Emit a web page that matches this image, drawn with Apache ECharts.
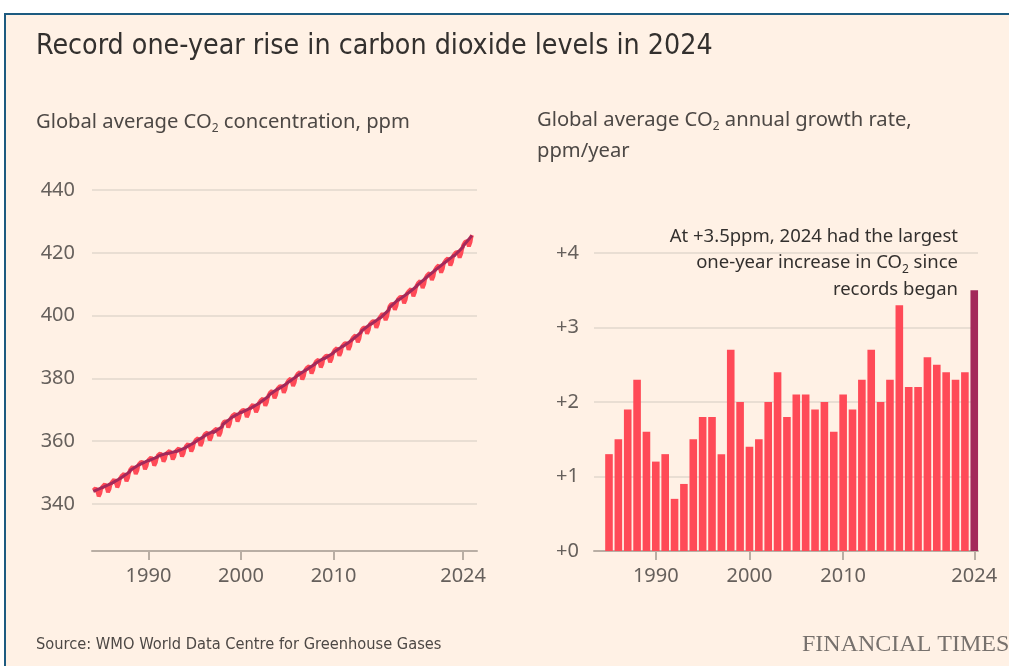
<!DOCTYPE html>
<html>
<head>
<meta charset="utf-8">
<title>CO2 levels</title>
<script src="https://cdn.jsdelivr.net/npm/echarts@6/dist/echarts.min.js"></script>
<style>
  html, body { margin: 0; padding: 0; background: #ffffff; width: 1009px; height: 666px; overflow: hidden; }
  #frame { position: absolute; left: 4px; top: 13px; width: 1010px; height: 660px; background: #FFF1E5;
           border-left: 2px solid #1d5b80; border-top: 2px solid #1d5b80; box-sizing: border-box; }
  #chart { position: absolute; left: 0; top: 0; width: 1009px; height: 666px; }
</style>
</head>
<body>
<div id="frame"></div>
<div id="chart"></div>
<script>
// Annual global mean CO2 concentration (ppm), 1984-2024
const years = [1984, 1985, 1986, 1987, 1988, 1989, 1990, 1991, 1992, 1993,
               1994, 1995, 1996, 1997, 1998, 1999, 2000, 2001, 2002, 2003,
               2004, 2005, 2006, 2007, 2008, 2009, 2010, 2011, 2012, 2013,
               2014, 2015, 2016, 2017, 2018, 2019, 2020, 2021, 2022, 2023, 2024];
const annualMeanPpm = [344.6, 345.9, 347.4, 349.3, 351.6, 353.2, 354.4, 355.7, 356.4, 357.3,
                       358.8, 360.6, 362.4, 363.7, 366.4, 368.4, 369.8, 371.3, 373.3, 375.7,
                       377.5, 379.6, 381.7, 383.6, 385.6, 387.2, 389.3, 391.2, 393.5, 396.2,
                       398.2, 400.5, 403.8, 406.0, 408.2, 410.8, 413.3, 415.7, 418.0, 420.4, 423.9];
// Mean seasonal cycle, deviation from trend (ppm), Jan..Dec
const seasonalCyclePpm = [0.3, 0.5, 0.6, 0.7, 0.6, 0.0, -1.2, -2.3, -2.5, -1.5, -0.4, 0.1];

// Annual growth rate (ppm/year), 1985-2024
const growthYears = [1985, 1986, 1987, 1988, 1989, 1990, 1991, 1992, 1993, 1994,
                     1995, 1996, 1997, 1998, 1999, 2000, 2001, 2002, 2003, 2004,
                     2005, 2006, 2007, 2008, 2009, 2010, 2011, 2012, 2013, 2014,
                     2015, 2016, 2017, 2018, 2019, 2020, 2021, 2022, 2023, 2024];
const growthRate = [1.3, 1.5, 1.9, 2.3, 1.6, 1.2, 1.3, 0.7, 0.9, 1.5,
                    1.8, 1.8, 1.3, 2.7, 2.0, 1.4, 1.5, 2.0, 2.4, 1.8,
                    2.1, 2.1, 1.9, 2.0, 1.6, 2.1, 1.9, 2.3, 2.7, 2.0,
                    2.3, 3.3, 2.2, 2.2, 2.6, 2.5, 2.4, 2.3, 2.4, 3.5];
const recordYear = 2024;

// Axis ticks
const yearTicks = [1990, 2000, 2010, 2024];
const concTicks = [340, 360, 380, 400, 420, 440];
const rateTicks = [0, 1, 2, 3, 4];

// Palette
const INK = '#33302E', SUBINK = '#4D4845', AXISINK = '#66605C';
const GRIDCOL = '#E2D7CC', AXISCOL = '#B9AEA4';
const RED = '#FF4A57', CLARET = '#A3295A';

// Monthly series: deseasonalised trend (annual mean, tilted by the local
// year-on-year change) plus the mean seasonal cycle
const trendMonthly = [];
const seasonalMonthly = [];
years.forEach((y, i) => {
  const prev = annualMeanPpm[Math.max(i - 1, 0)];
  const next = annualMeanPpm[Math.min(i + 1, years.length - 1)];
  const span = Math.min(i + 1, years.length - 1) - Math.max(i - 1, 0);
  const slope = (next - prev) / span;
  for (let m = 0; m < 12; m++) {
    const x = y + (m + 0.5) / 12;
    const t = annualMeanPpm[i] + slope * (m - 5.5) / 12;
    trendMonthly.push([x, +t.toFixed(2)]);
    seasonalMonthly.push([x, +(t + seasonalCyclePpm[m]).toFixed(2)]);
  }
});

const barData = growthYears.map((y, i) => ({
  value: [y, growthRate[i]],
  itemStyle: { color: y === recordYear ? CLARET : RED }
}));

const FONT = "'Noto Sans', 'Open Sans', sans-serif";
const NARROW = "'Liberation Sans Narrow', 'DejaVu Sans Condensed', 'Roboto', sans-serif";

const sub = { fontSize: 12, fontFamily: FONT, color: SUBINK, padding: [13, 0, 0, 0] };

const chart = echarts.init(document.getElementById('chart'), null, { renderer: 'canvas' });

chart.setOption({
  backgroundColor: 'transparent',
  animation: false,
  title: [
    { text: 'Record one-year rise in carbon dioxide levels in 2024', left: 31, top: 28,
      textStyle: { fontFamily: NARROW, fontSize: 28.3, fontWeight: 'normal', color: INK } },
    { text: 'Global average CO{sub|2} concentration, ppm', left: 31, top: 105,
      textStyle: { fontFamily: FONT, fontSize: 20.2, fontWeight: 'normal', color: SUBINK, rich: { sub } } },
    { text: 'Global average CO{sub|2} annual growth rate,\nppm/year', left: 532, top: 100,
      textStyle: { fontFamily: FONT, fontSize: 20.2, fontWeight: 'normal', color: SUBINK, lineHeight: 31, rich: { sub } } },
    { text: 'Source: WMO World Data Centre for Greenhouse Gases', left: 31, top: 632,
      textStyle: { fontFamily: NARROW, fontSize: 16.3, fontWeight: 'normal', color: SUBINK } },
    { text: 'FINANCIAL TIMES', left: 797, top: 628,
      textStyle: { fontFamily: "'Liberation Serif', 'DejaVu Serif', serif", fontSize: 24, fontWeight: 'normal', color: '#77716D' } }
  ],
  graphic: [
    { type: 'text', x: 958, y: 223, z: 10,
      style: { text: 'At +3.5ppm, 2024 had the largest\none-year increase in CO{asub|2} since\nrecords began',
               fontFamily: FONT, fontSize: 18.5, fill: INK, lineHeight: 26.5, align: 'right', textAlign: 'right',
               rich: { asub: { fontSize: 12, fontFamily: FONT, fill: INK, padding: [13, 0, 0, 0] } } } }
  ],
  grid: [
    { left: 92, right: 532, top: 190, bottom: 162 },
    { left: 594, right: 31, top: 253, bottom: 115 }
  ],
  xAxis: [
    { gridIndex: 0, type: 'value', min: 1983.9, max: 2025.5, offset: 47,
      axisLine: { show: true, lineStyle: { color: AXISCOL, width: 2 } },
      axisTick: { show: true, customValues: yearTicks, length: 9, lineStyle: { color: AXISCOL, width: 2 } },
      axisLabel: { customValues: yearTicks, formatter: v => String(v), margin: 15,
                   fontFamily: FONT, fontSize: 20, color: AXISINK },
      splitLine: { show: false } },
    { gridIndex: 1, type: 'value', min: 1983.4, max: 2024.4,
      axisLine: { show: true, onZero: false, lineStyle: { color: AXISCOL, width: 2 } },
      axisTick: { show: true, customValues: yearTicks, length: 9, lineStyle: { color: AXISCOL, width: 2 } },
      axisLabel: { customValues: yearTicks, formatter: v => String(v), margin: 15,
                   fontFamily: FONT, fontSize: 20, color: AXISINK },
      splitLine: { show: false } }
  ],
  yAxis: [
    { gridIndex: 0, type: 'value', min: concTicks[0], max: concTicks[concTicks.length - 1], interval: 20,
      axisLine: { show: false }, axisTick: { show: false },
      axisLabel: { fontFamily: FONT, fontSize: 20, color: AXISINK, margin: 17 },
      splitLine: { show: true, lineStyle: { color: GRIDCOL, width: 1.5 } } },
    { gridIndex: 1, type: 'value', min: rateTicks[0], max: rateTicks[rateTicks.length - 1], interval: 1,
      axisLine: { show: false }, axisTick: { show: false },
      axisLabel: { fontFamily: FONT, fontSize: 20, color: AXISINK, margin: 15, formatter: v => '+' + v },
      splitLine: { show: true, lineStyle: { color: GRIDCOL, width: 1.5 } } }
  ],
  series: [
    { type: 'line', name: 'monthly', xAxisIndex: 0, yAxisIndex: 0, data: seasonalMonthly,
      showSymbol: false, lineStyle: { color: RED, width: 4 }, z: 3 },
    { type: 'line', name: 'trend', xAxisIndex: 0, yAxisIndex: 0, data: trendMonthly,
      showSymbol: false, smooth: true, lineStyle: { color: CLARET, width: 3 }, z: 4 },
    { type: 'bar', name: 'growth', xAxisIndex: 1, yAxisIndex: 1, data: barData,
      barWidth: 7.6, z: 3 }
  ]
});
</script>
</body>
</html>
